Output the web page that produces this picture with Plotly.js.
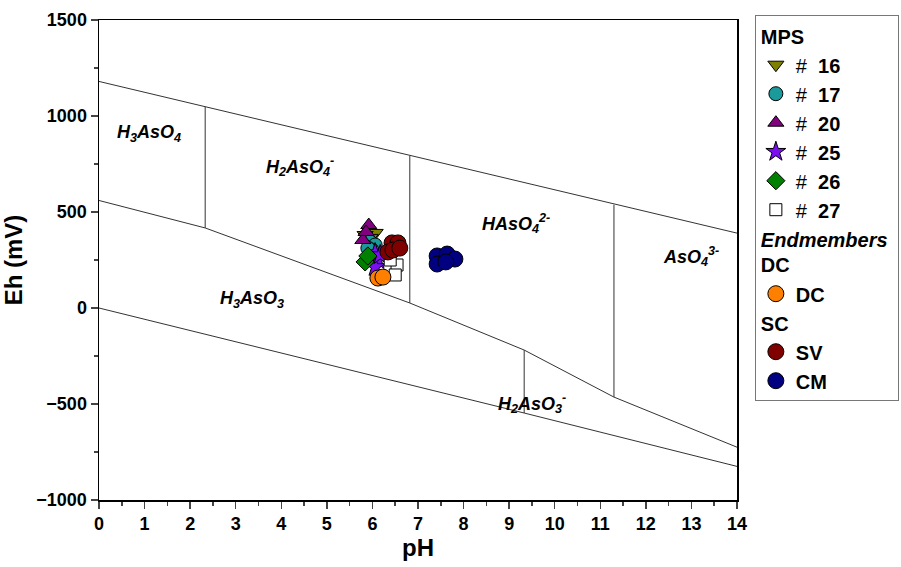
<!DOCTYPE html>
<html>
<head>
<meta charset="utf-8">
<script src="https://cdn.plot.ly/plotly-3.0.1.min.js"></script>
<style>html,body{margin:0;padding:0;background:#fff;}#chart{width:901px;height:567px;}</style>
</head>
<body>
<div id="chart"></div>
<script>
// Boundary lines (pH, Eh mV)
var topLinePH = [0, 14];
var topLineEh = [1180, 390];
var midLinePH = [0, 2.33, 6.82, 9.33, 11.3, 14];
var midLineEh = [560, 417, 26, -219, -464, -725];
var botLinePH = [0, 9.33, 14];
var botLineEh = [0, -547, -825];
var v1PH = [2.33, 2.33]; var v1Eh = [1048, 417];
var v2PH = [6.82, 6.82]; var v2Eh = [793, 26];
var v3PH = [9.33, 9.33]; var v3Eh = [-219, -547];
var v4PH = [11.3, 11.3]; var v4Eh = [538, -464];

// Species labels
var labelText = ['H<sub>3</sub>AsO<sub>4</sub>', 'H<sub>2</sub>AsO<sub>4</sub><sup>-</sup>', 'HAsO<sub>4</sub><sup>2-</sup>', 'AsO<sub>4</sub><sup>3-</sup>', 'H<sub>3</sub>AsO<sub>3</sub>', 'H<sub>2</sub>AsO<sub>3</sub><sup>-</sup>'];
var labelPH = [1.1, 4.4, 9.15, 13.0, 3.35, 9.5];
var labelEh = [910, 735, 440, 270, 45, -495];

// Samples
var s16PH = [6.06, 5.84, 5.95]; var s16Eh = [391, 380, 365];
var s17PH = [5.95, 6.06, 5.99, 5.90]; var s17Eh = [344, 328, 302, 312];
var s20PH = [5.92, 5.79, 5.86]; var s20Eh = [432, 354, 396];
var s25PH = [6.06, 6.12, 6.06, 6.17]; var s25Eh = [286, 250, 214, 276];
var s26PH = [5.84, 5.90]; var s26Eh = [240, 271];
var s27PH = [6.54, 6.50, 6.39]; var s27Eh = [224, 172, 250];
var dcPH = [6.12, 6.23]; var dcEh = [156, 161];
var svPH = [6.43, 6.56, 6.34, 6.45, 6.60]; var svEh = [339, 339, 292, 302, 312];
var cmPH = [7.42, 7.64, 7.81, 7.42, 7.61]; var cmEh = [271, 281, 255, 229, 240];

var FAM = 'Arial, Liberation Sans, sans-serif';
function line(x, y) {
  return {x: x, y: y, mode: 'lines', line: {color: '#333', width: 1}, showlegend: false, hoverinfo: 'skip'};
}
var traces = [
  line(topLinePH, topLineEh), line(midLinePH, midLineEh), line(botLinePH, botLineEh),
  line(v1PH, v1Eh), line(v2PH, v2Eh), line(v3PH, v3Eh), line(v4PH, v4Eh)
];
function pts(x, y, name, sym, color, group, gtitle, size) {
  var t = {x: x, y: y, mode: 'markers', name: name, legendgroup: group,
    marker: {symbol: sym, color: color, size: size || 14, line: {color: '#000', width: 1}}};
  if (gtitle) t.legendgrouptitle = {text: gtitle, font: {size: 20, color: '#000', family: FAM}};
  return t;
}
traces.push(pts(s16PH, s16Eh, '#  <b>16</b>', 'triangle-down', '#808000', 'mps', '<b>MPS</b>'));
traces.push(pts(s17PH, s17Eh, '#  <b>17</b>', 'circle', '#1a9a9a', 'mps'));
traces.push(pts(s20PH, s20Eh, '#  <b>20</b>', 'triangle-up', '#800080', 'mps'));
traces.push(pts(s25PH, s25Eh, '#  <b>25</b>', 'star', '#7a10f0', 'mps', null, 15));
traces.push(pts(s26PH, s26Eh, '#  <b>26</b>', 'diamond', '#008000', 'mps'));
traces.push(pts(s27PH, s27Eh, '#  <b>27</b>', 'square', '#ffffff', 'mps', null, 12));
traces.push(pts(dcPH, dcEh, '<b>DC</b>', 'circle', '#ff8000', 'dc', '<b><i>Endmembers</i></b><br><b>DC</b>', 16));
traces.push(pts(svPH, svEh, '<b>SV</b>', 'circle', '#800000', 'sc', '<b>SC</b>', 16));
traces.push(pts(cmPH, cmEh, '<b>CM</b>', 'circle', '#000080', 'sc', null, 16));

var annotations = labelText.map(function(t, i) {
  return {x: labelPH[i], y: labelEh[i], text: '<b><i>' + t + '</i></b>', showarrow: false,
    font: {size: 18, color: '#000', family: FAM}};
});

var layout = {
  width: 901, height: 567,
  margin: {l: 99, r: 164, t: 20, b: 67, autoexpand: false},
  paper_bgcolor: '#fff', plot_bgcolor: '#fff',
  font: {family: FAM, color: '#000'},
  xaxis: {range: [0, 14], tickmode: 'linear', tick0: 0, dtick: 1, ticks: 'outside', ticklen: 7, tickwidth: 1.5,
    minor: {dtick: 0.5, ticks: 'outside', ticklen: 4, tickwidth: 1.5, showgrid: false},
    showline: true, linecolor: '#000', linewidth: 1.5, mirror: true, showgrid: false, zeroline: false,
    tickfont: {family: FAM, size: 18, color: '#000', weight: 'bold'},
    title: {text: '<b>pH</b>', font: {size: 24, family: FAM, color: '#000'}, standoff: 6}},
  yaxis: {range: [-1000, 1500], tickmode: 'linear', tick0: -1000, dtick: 500, ticks: 'outside', ticklen: 7, tickwidth: 1.5,
    minor: {dtick: 250, ticks: 'outside', ticklen: 4, tickwidth: 1.5, showgrid: false},
    showline: true, linecolor: '#000', linewidth: 1.5, mirror: true, showgrid: false, zeroline: false,
    tickfont: {family: FAM, size: 18, color: '#000', weight: 'bold'},
    title: {text: '<b>Eh (mV)</b>', font: {size: 24, family: FAM, color: '#000'}, standoff: 8}},
  legend: {x: 1.028, xanchor: 'left', y: 1.01, yanchor: 'top', bordercolor: '#777', borderwidth: 1, bgcolor: '#fff',
    font: {size: 20, color: '#000', family: FAM}, tracegroupgap: 0, itemwidth: 30, maxheight: 560},
  annotations: annotations,
  showlegend: true
};
Plotly.newPlot('chart', traces, layout, {staticPlot: true});
</script>
</body>
</html>
